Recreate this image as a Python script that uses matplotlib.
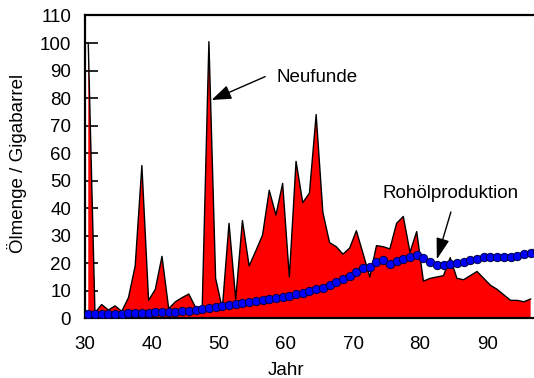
import numpy as np
import matplotlib
matplotlib.use("Agg")
import matplotlib.pyplot as plt

plt.rcParams['font.family'] = ['Liberation Sans', 'DejaVu Sans']
plt.rcParams['font.size'] = 13.5

# Neufunde (Gigabarrel pro Jahr), 1930-1996
disc_years = list(range(30, 97))
discoveries = [
    100, 2, 5, 3, 4.5, 2.5, 7.5, 19, 55.5, 6.5,
    10.5, 22.5, 3.5, 6, 7.5, 8.8, 4, 4, 100.5, 14.5,
    3.5, 34.5, 7, 35.5, 19, 24.5, 30.2, 46.5, 37.5, 49,
    15, 57, 42, 45.5, 74, 38.5, 27.5, 26, 23.3, 25.5,
    31.8, 23.5, 15, 26.4, 26, 25.2, 34.5, 37, 24, 31.5,
    13.5, 14.5, 15, 15.5, 22, 14.5, 14, 15.5, 17, 14.5,
    12, 10.5, 8.5, 6.5, 6.5, 6, 7,
]

# Rohoelproduktion (Gigabarrel pro Jahr), 1930-1997
prod_years = list(range(30, 98))
production = [
    1.6, 1.5, 1.5, 1.6, 1.6, 1.7, 1.8, 1.9, 1.9, 2.0,
    2.4, 2.3, 2.2, 2.4, 2.7, 2.8, 3.1, 3.4, 3.8, 4.0,
    4.5, 5.0, 5.2, 5.5, 5.8, 6.1, 6.5, 6.9, 7.2, 7.8,
    8.2, 8.7, 9.3, 9.8, 10.6, 11.1, 12.2, 13.2, 14.4, 15.5,
    16.9, 18.2, 18.8, 20.6, 21.3, 19.6, 20.9, 21.6, 22.1, 22.9,
    22.0, 20.3, 19.4, 19.2, 19.8, 20.0, 20.5, 21.0, 21.7, 22.2,
    22.3, 22.3, 22.3, 22.3, 22.8, 23.2, 23.6, 24.3,
]


def plot_oil():
    fig = plt.figure(figsize=(5.34, 3.78), dpi=100)
    ax = fig.add_axes([0.159, 0.158, 0.841, 0.801])

    # values belong to the middle of each year
    xd = np.array(disc_years) + 0.5
    xp = np.array(prod_years) + 0.5

    ax.fill_between(xd, discoveries, 0, facecolor='#ff0000',
                    edgecolor='none', zorder=2)
    ax.plot(xd, discoveries, color='black', lw=1.0, zorder=3)
    ax.plot(xp, production, color='#0000ff', lw=1.0, marker='o',
            markersize=6.0, markerfacecolor='#0000ff',
            markeredgecolor='#000040', markeredgewidth=0.7, zorder=4)

    ax.set_xlim(30, 97)
    ax.set_ylim(0, 110)
    ax.set_xticks(range(30, 100, 10))
    ax.set_yticks(range(0, 120, 10))
    ax.tick_params(axis='both', direction='in', length=9, width=1.2)
    ax.tick_params(axis='x', pad=13)
    ax.tick_params(axis='y', pad=10)
    for side in ['left', 'bottom', 'top']:
        ax.spines[side].set_linewidth(1.6)
    ax.spines['right'].set_visible(False)

    ax.set_xlabel("Jahr")
    ax.xaxis.set_label_coords(0.448, -0.143)
    ax.set_ylabel("Ölmenge / Gigabarrel")
    ax.yaxis.set_label_coords(-0.129, 0.51)

    ax.annotate("", xy=(48.9, 79.3), xytext=(56.9, 87.8),
                arrowprops=dict(arrowstyle='-|>,head_length=0.6,head_width=0.22',
                                color='black', lw=1.0, mutation_scale=20,
                                shrinkA=0, shrinkB=0), zorder=5)
    ax.text(64.7, 87.5, "Neufunde", ha='center', va='center')

    ax.annotate("", xy=(82.5, 21.4), xytext=(84.6, 38.6),
                arrowprops=dict(arrowstyle='-|>,head_length=0.65,head_width=0.2',
                                color='black', lw=1.0, mutation_scale=20,
                                shrinkA=0, shrinkB=0), zorder=5)
    ax.text(84.6, 45.5, "Rohölproduktion", ha='center', va='center')

    fig.savefig("out.png", dpi=100)


def main():
    plot_oil()


if __name__ == "__main__":
    main()
